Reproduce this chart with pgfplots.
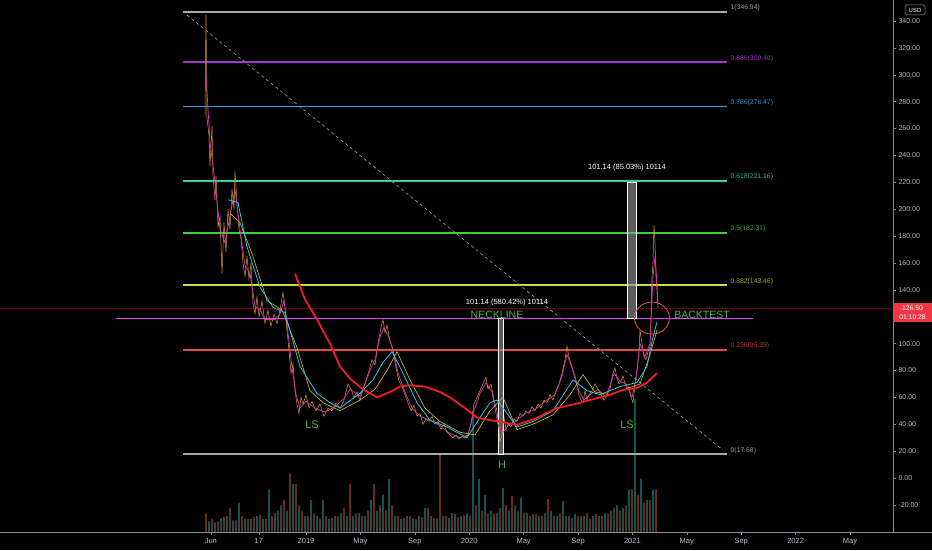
\documentclass[border=0pt]{standalone}
\usepackage{fontspec}
\setmainfont{Liberation Sans}
\usepackage{pgfplots}
\pgfplotsset{compat=1.18}
\usepackage{pgfplotstable}

\definecolor{axisgray}{HTML}{8A8D96}
\definecolor{ticktext}{HTML}{B8BBC4}
\definecolor{fibgray}{HTML}{A8A8A8}
\definecolor{fibpurple}{HTML}{A335D0}
\definecolor{fibblue}{HTML}{3A9FDF}
\definecolor{fibteal}{HTML}{3CCFA0}
\definecolor{fibgreen}{HTML}{3CD03C}
\definecolor{fiblime}{HTML}{C5DE45}
\definecolor{fibred}{HTML}{E04848}
\definecolor{neck}{HTML}{E040F0}
\definecolor{txtgreen}{HTML}{4CB050}
\definecolor{ma200}{HTML}{F01E1E}
\definecolor{macyan}{HTML}{22C8E0}
\definecolor{mayellow}{HTML}{D8C030}
\definecolor{mamag}{HTML}{E030C8}
\definecolor{candle}{HTML}{D89A2C}
\definecolor{volred}{HTML}{A23E3E}
\definecolor{volteal}{HTML}{1E8378}
\definecolor{tagred}{HTML}{F23645}

% bar index (1 unit = 1 px of the original chart), price in USD
\pgfplotstableread{
b v
5 270
6 345
7 268
9 255
10 232
12 262
13 225
15 207
16 225
18 187
20 195
22 152
24 190
26 168
28 200
30 185
32 215
34 200
35 228
37 205
39 185
41 178
43 160
45 150
47 165
49 148
51 160
53 130
55 122
57 135
59 120
62 132
65 115
68 125
71 113
74 122
77 115
80 125
83 138
85 128
87 110
89 95
91 78
93 85
95 65
97 55
99 48
101 60
103 55
106 62
109 52
112 57
116 50
120 55
124 46
128 52
132 50
136 56
140 52
144 58
148 70
151 66
154 60
157 64
160 58
163 66
166 72
169 80
172 88
175 84
178 100
181 112
183 118
185 108
187 114
190 102
193 95
196 82
199 72
202 68
205 62
208 56
211 50
214 54
217 46
220 48
223 40
226 44
229 42
232 46
235 40
238 42
241 36
244 40
247 34
250 32
253 30
256 32
259 29
262 31
265 30
268 32
271 40
274 55
277 60
280 65
283 70
286 75
288 66
291 70
294 58
297 50
299 35
300 27
302 32
304 45
306 36
308 40
311 38
314 44
317 42
320 48
323 46
326 50
329 48
332 53
335 50
338 55
341 52
344 58
347 56
350 62
353 58
356 65
359 70
362 78
365 88
367 98
369 90
371 85
373 80
375 76
377 70
379 62
381 58
383 56
385 65
387 58
389 62
392 65
395 70
398 66
401 62
404 58
407 62
410 66
413 78
415 82
417 74
419 70
421 72
423 76
425 70
427 66
429 68
431 60
433 56
435 70
437 80
439 95
440 110
442 100
444 90
446 88
448 94
450 98
451 120
452 150
453 160
454 188
455 175
456 150
457 140
458 126.5
}\price

\pgfplotstableread{
b v
6 300
10 250
15 220
20 185
25 175
30 195
35 215
40 185
45 158
50 152
55 128
60 125
65 118
70 118
75 118
80 122
84 132
88 108
92 82
96 62
100 52
106 57
115 52
125 49
135 53
145 60
150 66
160 61
170 80
175 88
180 105
184 112
188 106
193 96
198 78
205 64
212 52
220 46
230 43
240 39
250 33
260 30
268 32
274 50
280 63
286 71
292 64
298 40
302 33
308 39
315 42
325 48
335 51
345 57
355 62
362 76
367 92
372 82
378 66
384 58
390 62
398 66
406 60
414 78
420 72
426 70
432 60
436 74
440 100
445 90
450 100
453 150
455 165
457 145
458 130
}\mafast

\pgfplotstableread{
b v
28 207
38 205
47 172
60 142
73 127
85 123
100 83
117 63
130 56
140 52
160 63
173 73
183 86
192 94
203 78
217 56
230 43
247 38
267 30
280 45
290 56
297 58
305 50
317 38
333 42
353 50
373 73
387 65
400 62
420 68
437 71
447 83
453 105
457 116
}\macyan

\pgfplotstableread{
b v
30 197
40 190
52 167
67 132
82 125
97 97
110 65
123 56
140 50
160 58
175 66
187 80
197 94
210 73
225 52
240 42
260 34
275 32
290 50
303 60
317 36
333 40
353 47
370 62
383 77
395 64
410 62
425 66
440 70
450 92
457 110
}\mayellow

\pgfplotstableread{
b v
95 152
105 133
117 118
130 100
140 83
150 74
163 66
177 60
190 64
200 68
210 69
225 68
240 64
250 60
265 52
277 45
290 43
300 42
317 39.5
335 44
357 52
375 55
390 58
410 62
423 65.5
437 67
447 71
457 78
}\malong

\begin{document}
\begin{tikzpicture}
\path[use as bounding box, fill=black] (0,0) rectangle (932pt,550pt);

% volume pane
\begin{axis}[at={(0pt,18pt)}, anchor=south west,
  width=893pt, height=532pt, scale only axis,
  xmin=-200, xmax=693, ymin=0, ymax=100,
  hide axis, ybar, bar width=1.2pt]
\addplot[fill=volred, draw=none, bar shift=0pt] coordinates {
(6,3.5) (12,2.5) (18,2) (24,2.8) (30,4.5) (36,2.2) (42,3) (48,2.4) (54,2.8) (60,3.2)
(66,2.5) (72,3) (78,4) (84,6) (90,11) (96,9) (102,4) (108,3) (114,3.5) (120,2.5)
(126,3) (132,2.6) (138,3) (144,4.5) (150,9) (156,3.5) (162,3) (168,4) (174,9) (180,5)
(186,4) (192,5) (198,3) (204,2.6) (210,3) (216,2.4) (222,2.8) (228,4.5) (234,2.6) (240,14.7)
(246,3) (252,3.6) (258,2.8) (264,3.2) (270,3) (276,5) (282,4) (288,3.5) (294,3.5) (300,4.5)
(306,5) (312,6.8) (318,4) (324,3.6) (330,3) (336,3.4) (342,3) (348,6.2) (354,3) (360,3.5)
(366,3) (372,2.6) (378,3) (384,3) (390,2.5) (396,3.4) (402,3) (408,3.5) (414,4.5) (420,4)
(426,5) (432,8) (438,7) (444,5.5) (450,6) (456,8)};
\addplot[fill=volteal, draw=none, bar shift=0pt] coordinates {
(9,2) (15,1.8) (21,2.5) (27,3) (33,2.2) (39,5.5) (45,2.5) (51,2.4) (57,3) (63,2.5)
(69,8) (75,3.5) (81,5) (87,4) (93,9) (99,5) (105,3) (111,6) (117,3) (123,6)
(129,2.5) (135,3) (141,3.5) (147,3) (153,3) (159,3.5) (165,3) (171,6) (177,4) (183,7)
(189,10) (195,3) (201,2.5) (207,3) (213,2.6) (219,3) (225,4.5) (231,3) (237,2.5) (243,3)
(249,2.6) (255,3.4) (261,3) (267,3.5) (273,22.8) (279,10) (285,7) (291,4) (297,3.5) (303,8.3)
(309,4) (315,5) (321,6.4) (327,3.5) (333,3.4) (339,3) (345,3.5) (351,4) (357,3) (363,5.8)
(369,3) (375,3.4) (381,3) (387,3.5) (393,3) (399,3) (405,3.5) (411,4) (417,5) (423,4.5)
(429,8) (435,25) (441,10) (447,6) (453,8)};
\end{axis}

% price pane
\begin{axis}[at={(0pt,18pt)}, anchor=south west,
  width=893pt, height=532pt, scale only axis,
  xmin=-200, xmax=693, ymin=-40.18, ymax=355.65,
  axis x line*=bottom, axis y line*=right,
  axis line style={draw=axisgray, line width=0.6pt},
  xtick={10.8,58.8,106,160.4,214.8,269.2,323.6,378,432.4,486.8,541.2,595.6,650},
  xticklabels={Jun,17,2019,May,Sep,2020,May,Sep,2021,May,Sep,2022,May},
  ytick={-20,0,20,40,60,80,100,140,160,180,200,220,240,260,280,300,320,340},
  tick style={draw=axisgray, line width=0.5pt},
  major tick length=3pt, tick align=outside,
  ticklabel style={text=ticktext},
  xticklabel style={font=\fontsize{7.5}{8}\selectfont},
  yticklabel style={font=\fontsize{7}{8}\selectfont, anchor=west, xshift=-1pt,
    /pgf/number format/.cd, fixed, fixed zerofill, precision=2, assume math mode=true},
]
% fib levels
\addplot[fibgray, line width=1.6pt] coordinates {(-17,346.94) (527,346.94)};
\addplot[fibpurple, line width=1.6pt] coordinates {(-17,309.40) (527,309.40)};
\addplot[fibblue, line width=1.6pt] coordinates {(-17,276.47) (527,276.47)};
\addplot[fibteal, line width=1.6pt] coordinates {(-17,221.16) (527,221.16)};
\addplot[fibgreen, line width=1.6pt] coordinates {(-17,182.31) (527,182.31)};
\addplot[fiblime, line width=1.6pt] coordinates {(-17,143.46) (527,143.46)};
\addplot[fibred, line width=1.6pt] coordinates {(-17,95.39) (527,95.39)};
\addplot[fibgray, line width=1.6pt] coordinates {(-17,17.68) (527,17.68)};
% last price and trend lines
\addplot[red!55!black, densely dotted, line width=0.6pt] coordinates {(-200,126.5) (693,126.5)};
\addplot[gray!70, dash pattern=on 3pt off 3pt, line width=0.6pt] coordinates {(-13,344.5) (523,20.8)};
\addplot[neck, line width=1.3pt] coordinates {(-84,118.8) (553,118.8)};
% price range tools
\addplot[fill=gray!80, fill opacity=0.6, draw=white!85, line width=0.5pt] coordinates {(298,17.68) (303,17.68) (303,118.8) (298,118.8)} -- cycle;
\addplot[fill=gray!80, fill opacity=0.6, draw=white!85, line width=0.5pt] coordinates {(427,118.8) (436,118.8) (436,220) (427,220)} -- cycle;
\addplot[white, line width=1pt] coordinates {(427,118.8) (436,118.8)};
\addplot[white, line width=1pt] coordinates {(297,118.8) (304,118.8)};
% price and moving averages
\addplot[candle, line width=0.5pt] table[x=b, y=v] {\price};
\addplot[mamag, line width=0.7pt] table[x=b, y=v] {\mafast};
\addplot[mayellow, line width=0.6pt] table[x=b, y=v] {\mayellow};
\addplot[macyan, line width=0.8pt] table[x=b, y=v] {\macyan};
\addplot[ma200, line width=1.8pt] table[x=b, y=v] {\malong};
% circle
\draw[fibred!90, line width=0.8pt] (axis cs:452,119) ellipse [x radius=17.5pt, y radius=16pt];
% fib labels
\begin{scope}[every node/.style={anchor=south west, inner sep=0.5pt, font=\fontsize{6.8}{7}\selectfont}]
\node[text=gray!75] at (axis cs:530,346.94) {1(346.94)};
\node[text=fibpurple!90!black] at (axis cs:530,309.40) {0.886(309.40)};
\node[text=fibblue!90!black] at (axis cs:530,276.47) {0.786(276.47)};
\node[text=fibteal!85!black] at (axis cs:530,221.16) {0.618(221.16)};
\node[text=fibgreen!80!black] at (axis cs:530,182.31) {0.5(182.31)};
\node[text=fiblime!80!black] at (axis cs:530,143.46) {0.382(143.46)};
\node[text=fibred!85!black] at (axis cs:530,95.39) {0.236(95.39)};
\node[text=gray!75] at (axis cs:530,17.68) {0(17.68)};
\end{scope}
% annotations
\node[text=white, font=\fontsize{7.5}{8}\selectfont] at (axis cs:307,130.2) {101.14 (580.42\%) 10114};
\node[text=white, font=\fontsize{7.5}{8}\selectfont] at (axis cs:427,230.7) {101.14 (85.03\%) 10114};
\node[text=txtgreen, font=\fontsize{10.5}{11}\selectfont] at (axis cs:297,121) {NECKLINE};
\node[text=txtgreen, font=\fontsize{10.5}{11}\selectfont] at (axis cs:502,121) {BACKTEST};
\node[text=txtgreen, font=\fontsize{11}{12}\selectfont] at (axis cs:112,39.4) {LS};
\node[text=txtgreen, font=\fontsize{11}{12}\selectfont] at (axis cs:302,9.7) {H};
\node[text=txtgreen, font=\fontsize{11}{12}\selectfont] at (axis cs:427,39.4) {LS};
\end{axis}

% extend bottom line under price scale
\draw[axisgray, line width=0.6pt] (893pt,18pt) -- (932pt,18pt);
% last price tag
\fill[tagred] (893pt,228pt) rectangle (932pt,247pt);
\node[text=white, font=\fontsize{6.8}{7}\selectfont, inner sep=0pt] at (912.5pt,242pt) {126.50};
\node[text=white, font=\fontsize{6.8}{7}\selectfont, inner sep=0pt] at (912.5pt,233pt) {01:10:28};
% currency box
\draw[gray!80, rounded corners=1.5pt, line width=0.5pt] (905pt,535pt) rectangle (925pt,545pt);
\node[text=white, font=\fontsize{6}{6}\selectfont, inner sep=0pt] at (915pt,540pt) {USD};
\end{tikzpicture}
\end{document}
